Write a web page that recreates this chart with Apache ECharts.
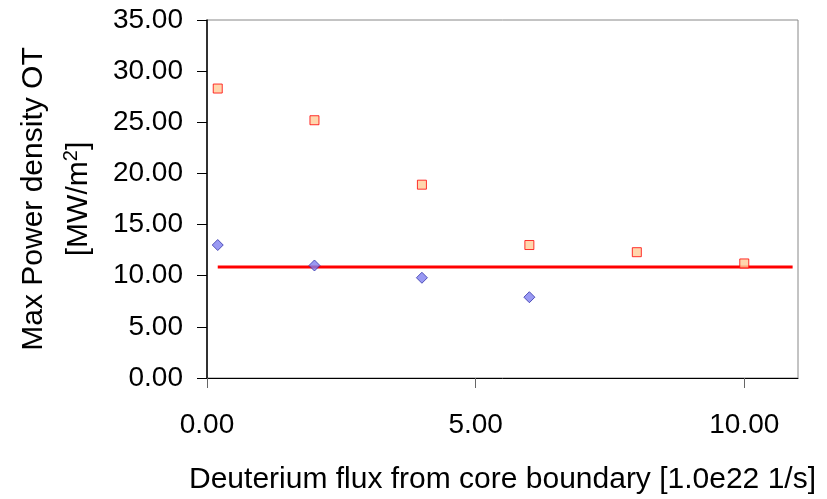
<!DOCTYPE html>
<html>
<head>
<meta charset="utf-8">
<script src="https://cdn.jsdelivr.net/npm/echarts@6/dist/echarts.min.js"></script>
<style>
html, body { margin: 0; padding: 0; background: #fff; }
#main { width: 827px; height: 499px; }
</style>
</head>
<body>
<div id="main"></div>
<script>
// 数据
var fluxX = [0.2, 2, 4, 6, 8, 10];
var powerSquares = [28.3, 25.2, 18.9, 13.0, 12.3, 11.2];
var fluxDiamond = [0.2, 2, 4, 6];
var powerDiamond = [13.0, 11.0, 9.8, 7.9];
var limitX = [0.2, 10.9];
var limitY = [10.85, 10.85];
var xTicks = [0, 5, 10];

function pairs(xs, ys) {
	var out = [];
	for (var i = 0; i < xs.length; i++) {
		out.push([xs[i], ys[i]]);
	}
	return out;
}

var font = 'Liberation Sans, Arial, sans-serif';
myChart = echarts.init(document.getElementById('main'));
myChart.setOption({
	animation : false,
	grid : {
		left : 207,
		right : 29,
		top : 20,
		bottom : 121,
		containLabel : false,
		outerBoundsMode : 'none',
		show : true,
		borderColor : '#888',
		borderWidth : 1
	},
	xAxis : {
		type : 'value',
		min : 0,
		max : 11,
		interval : 5,
		name : 'Deuterium flux from core boundary [1.0e22 1/s]',
		nameLocation : 'middle',
		nameGap : 87,
		nameTextStyle : { fontFamily : font, fontSize : 30, color : '#000' },
		axisLine : { lineStyle : { color : '#000', width : 1 } },
		axisTick : { inside : false, length : 10, customValues : xTicks, lineStyle : { color : '#666' } },
		axisLabel : {
			customValues : xTicks,
			margin : 33,
			fontFamily : font,
			fontSize : 28,
			color : '#000',
			formatter : function(v) { return v.toFixed(2); }
		},
		splitLine : { show : false }
	},
	yAxis : {
		type : 'value',
		min : 0,
		max : 35,
		interval : 5,
		name : '{a|Max Power density OT}\n{a|[MW/m}{s|2}{a|]}',
		nameLocation : 'middle',
		nameRotate : 90,
		nameGap : 106,
		nameTextStyle : {
			rich : {
				a : { fontFamily : font, fontSize : 30, color : '#000', lineHeight : 45 },
				s : { fontFamily : font, fontSize : 20, color : '#000', lineHeight : 45, padding : [0, 0, 14, 0] }
			}
		},
		axisLine : { show : true, lineStyle : { color : '#000', width : 1.5 } },
		axisTick : { show : true, inside : false, length : 10, lineStyle : { color : '#000' } },
		axisLabel : {
			margin : 24,
			fontFamily : font,
			fontSize : 28,
			color : '#000',
			formatter : function(v) { return v.toFixed(2); }
		},
		splitLine : { show : false }
	},
	series : [ {
		name : 'limit',
		type : 'line',
		data : pairs(limitX, limitY),
		symbol : 'none',
		lineStyle : { color : '#ff0000', width : 3 },
		z : 1
	}, {
		name : 'squares',
		type : 'scatter',
		data : pairs(fluxX, powerSquares),
		symbol : 'rect',
		symbolSize : 9,
		itemStyle : { color : '#ffcc99', borderColor : '#ff0000', borderWidth : 1 },
		z : 3
	}, {
		name : 'diamonds',
		type : 'scatter',
		data : pairs(fluxDiamond, powerDiamond),
		symbol : 'diamond',
		symbolSize : 11,
		itemStyle : { color : '#8080f0', borderColor : '#3333aa', borderWidth : 1 },
		z : 3
	} ]
});
</script>
</body>
</html>
